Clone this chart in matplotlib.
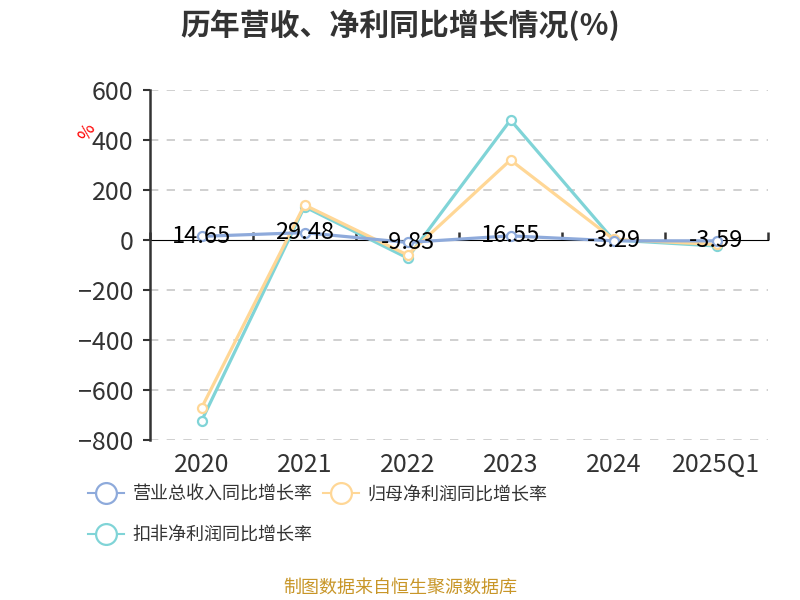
import matplotlib
matplotlib.use("Agg")
import matplotlib.pyplot as plt
from matplotlib.lines import Line2D
import numpy as np

plt.rcParams['font.family'] = ['Noto Sans CJK SC', 'DejaVu Sans']

categories = ["2020", "2021", "2022", "2023", "2024", "2025Q1"]
revenue_growth = [14.65, 29.48, -9.83, 16.55, -3.29, -3.59]
net_profit_growth = [-672, 140, -60, 320, 3, -18]
deducted_profit_growth = [-724, 133, -72, 480, 0, -24]
series_names = ["营业总收入同比增长率", "归母净利润同比增长率", "扣非净利润同比增长率"]
colors = ["#8eaadb", "#ffd796", "#80d4d7"]
yticks = [-800, -600, -400, -200, 0, 200, 400, 600]

fig = plt.figure(figsize=(8, 6), dpi=100)
ax = fig.add_axes([0.1875, 0.2667, 0.7725, 0.5833])

x = np.arange(len(categories))
all_series = [revenue_growth, net_profit_growth, deducted_profit_growth]
# draw in reverse so revenue line sits on top
for vals, name, c in reversed(list(zip(all_series, series_names, colors))):
    ax.plot(x, vals, color=c, lw=2.3, marker="o", ms=6.5,
            mfc="white", mec=c, mew=1.6, zorder=3)

for xi, v in zip(x, revenue_growth):
    ax.text(xi, v, f"{v:.2f}", ha="center", va="center", fontsize=17,
            color="black", zorder=5)

ax.set_xlim(-0.5, len(categories) - 0.5)
ax.set_ylim(yticks[0], yticks[-1])
ax.set_yticks(yticks)
ax.tick_params(axis="y", labelsize=18, labelcolor="#333333", length=5,
               width=1.5, color="#333333", pad=7)
for yv in yticks:
    if yv != 0:
        ax.axhline(yv, color="#c8c8c8", lw=1.2, ls=(0, (5, 5)), zorder=1)

ax.set_xticks(x)
ax.set_xticklabels(categories)
ax.tick_params(axis="x", labelsize=18, labelcolor="#333333", length=0, pad=9)

for s in ["top", "right", "bottom"]:
    ax.spines[s].set_visible(False)
ax.spines["left"].set_color("#333333")
ax.spines["left"].set_linewidth(1.8)

# zero axis with category boundary ticks
loc = (0 - yticks[0]) / (yticks[-1] - yticks[0])
sec = ax.secondary_xaxis(loc)
sec.set_xticks(np.arange(len(categories) + 1) - 0.5)
sec.set_xticklabels([])
sec.spines["bottom"].set_color("#333333")
sec.spines["bottom"].set_linewidth(1.8)
sec.tick_params(axis="x", direction="out", length=6, width=1.8, color="#333333")

fig.text(0.109, 0.78, "%", color="red", fontsize=13, rotation=60,
         ha="center", va="center")

fig.suptitle("历年营收、净利同比增长情况(%)", x=0.5, y=0.985, fontsize=21.5,
             fontweight="bold", color="#333333")

legend_handles = [Line2D([], [], color=c, lw=1.5, marker="o", ms=15,
                         mfc="white", mec=c, mew=1.6) for c in colors]
# reorder so that ncol=2 fills row by row
order = [0, 2, 1]
fig.legend(handles=[legend_handles[i] for i in order],
           labels=[series_names[i] for i in order], loc="upper left",
           bbox_to_anchor=(0.09, 0.218), ncol=2, frameon=False, fontsize=13,
           handlelength=2.0, handletextpad=0.45, columnspacing=0.57,
           labelspacing=1.25, labelcolor="#333333")

fig.text(0.5, 0.02, "制图数据来自恒生聚源数据库", color="#c89628", fontsize=13,
         ha="center", va="center")

fig.savefig("out.png", dpi=100)
